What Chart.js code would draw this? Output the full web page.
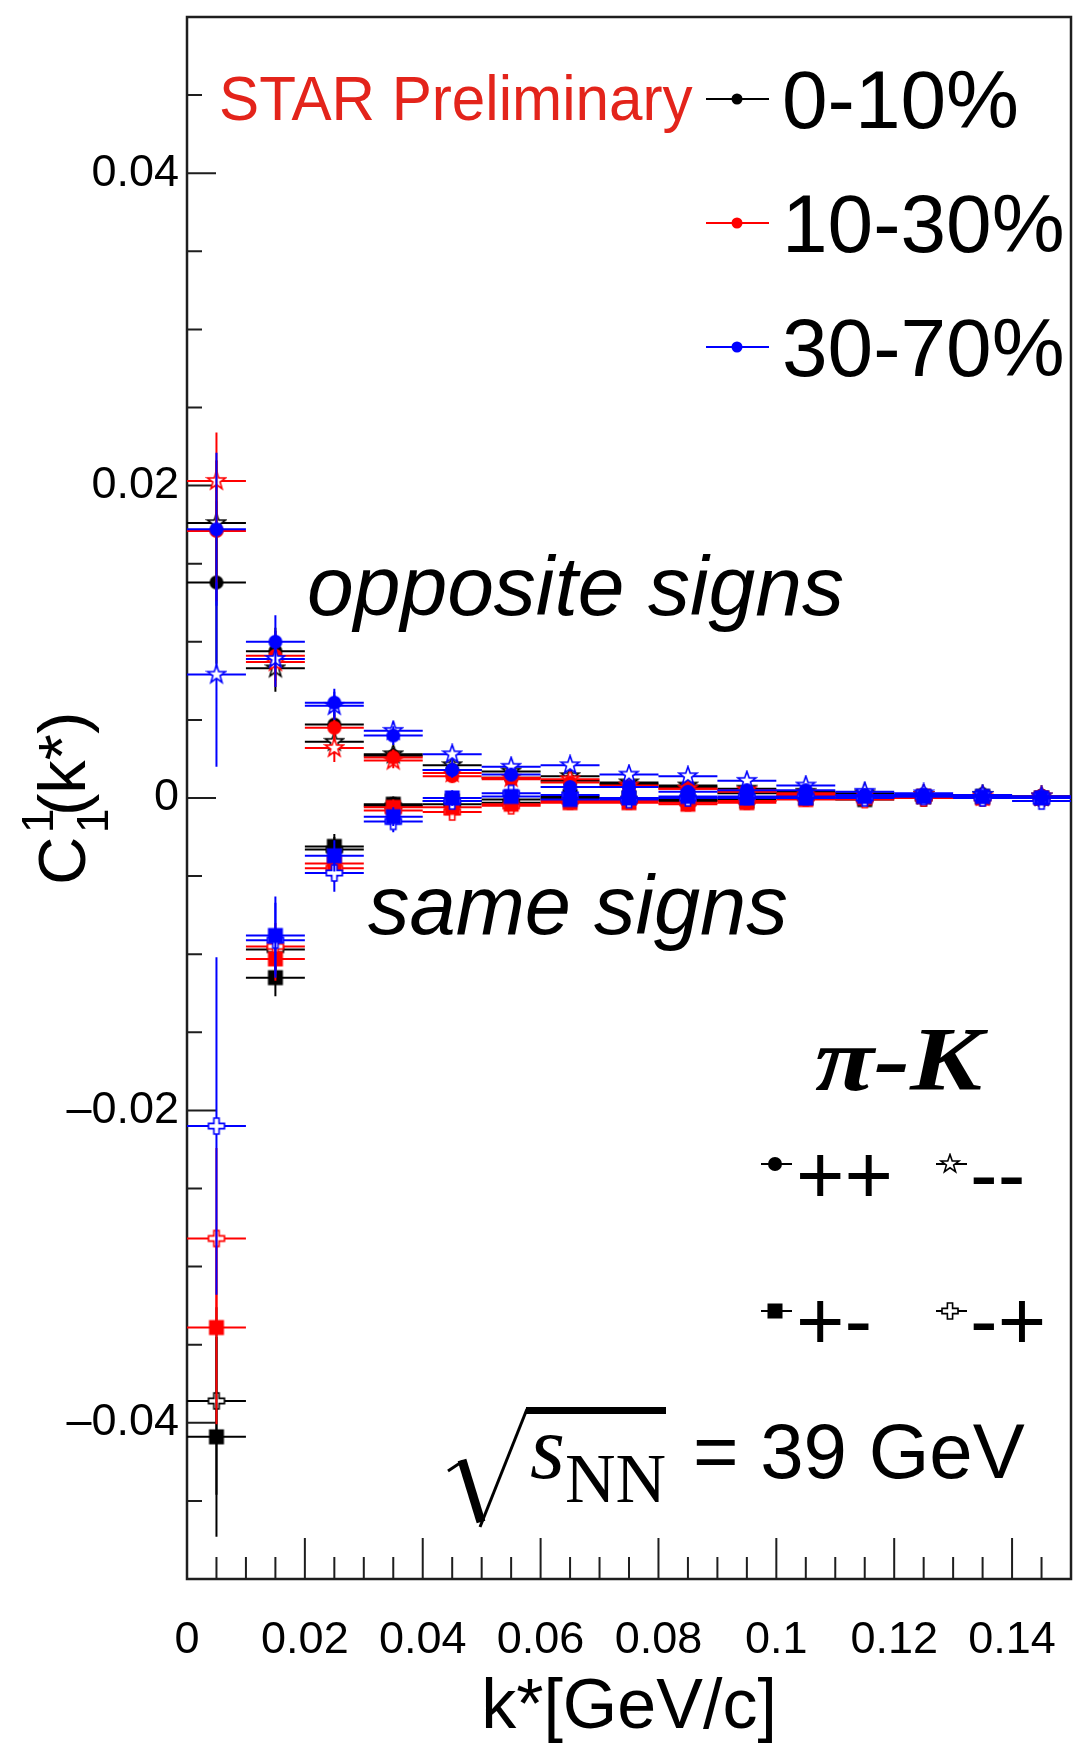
<!DOCTYPE html>
<html>
<head>
<meta charset="utf-8">
<title>C1 pi-K vs k*</title>
<script src="https://cdn.jsdelivr.net/npm/chart.js"></script>
<style>
  html, body { margin: 0; padding: 0; background: #fff; }
  canvas { display: block; }
</style>
</head>
<body>
<canvas id="c1Chart" width="1075" height="1744"></canvas>
<script>
// k* bin centres (GeV/c), bins are 0.01 wide
const kStar = [0.005, 0.015, 0.025, 0.035, 0.045, 0.055, 0.065, 0.075, 0.085, 0.095, 0.105, 0.115, 0.125, 0.135, 0.145];
const kHalfBin = 0.005;

const xTicks = [0, 0.02, 0.04, 0.06, 0.08, 0.1, 0.12, 0.14];
const yTicks = [-0.04, -0.02, 0, 0.02, 0.04];

const centralities = ['0-10%', '10-30%', '30-70%'];
const centralityColors = ['#000000', '#ff0000', '#0000ff'];
const pairLabels = ['++', '--', '+-', '-+'];
const pairMarkers = ['circle', 'star', 'square', 'cross'];

// ++ pairs
const pp010  = [0.0138, 0.0094, 0.0047, 0.0027, 0.0018, 0.0013, 0.0011, 0.0009, 0.0007, 0.0003, 0.0003, 0.0002, 0.0002, 0.0001, 0.0001];
const pp1030 = [0.0171, 0.0091, 0.0045, 0.0026, 0.0014, 0.0012, 0.0010, 0.0007, 0.0006, 0.0004, 0.0002, 0.0001, 0.0002, 0.0001, 0.0000];
const pp3070 = [0.0172, 0.0100, 0.0061, 0.0040, 0.0018, 0.0015, 0.0007, 0.0007, 0.0004, 0.0005, 0.0005, 0.0002, 0.0002, 0.0001, 0.0001];
// -- pairs
const mm010  = [0.0176, 0.0083, 0.0036, 0.0028, 0.0021, 0.0017, 0.0014, 0.0010, 0.0008, 0.0006, 0.0004, 0.0003, 0.0002, 0.0002, 0.0001];
const mm1030 = [0.0203, 0.0087, 0.0032, 0.0024, 0.0016, 0.0013, 0.0012, 0.0008, 0.0006, 0.0005, 0.0003, 0.0002, 0.0002, 0.0001, 0.0001];
const mm3070 = [0.0079, 0.0089, 0.0059, 0.0043, 0.0028, 0.0020, 0.0021, 0.0015, 0.0014, 0.0011, 0.0008, 0.0004, 0.0003, 0.0002, 0.0001];
// +- pairs
const pm010  = [-0.0409, -0.0115, -0.0031, -0.0004, -0.0002, -0.0001, 0.0001, 0.0000, -0.0001, -0.0002, 0.0000, -0.0001, 0.0001, 0.0001, 0.0000];
const pm1030 = [-0.0339, -0.0103, -0.0042, -0.0006, -0.0006, -0.0004, -0.0003, -0.0003, -0.0004, -0.0003, -0.0001, 0.0000, 0.0001, 0.0000, 0.0000];
const pm3070 = [null, -0.0088, -0.0037, -0.0012, 0.0000, 0.0001, -0.0001, 0.0000, 0.0001, 0.0000, 0.0000, 0.0001, 0.0001, 0.0001, 0.0000];
// -+ pairs
const mp010  = [-0.0386, -0.0097, -0.0033, -0.0005, -0.0004, -0.0003, 0.0000, -0.0001, -0.0002, -0.0001, 0.0001, 0.0000, 0.0000, 0.0001, 0.0000];
const mp1030 = [-0.0282, -0.0095, -0.0045, -0.0008, -0.0009, -0.0005, -0.0002, -0.0002, -0.0003, -0.0002, 0.0000, -0.0001, 0.0000, 0.0000, 0.0000];
const mp3070 = [-0.0210, -0.0091, -0.0048, -0.0015, -0.0002, 0.0003, 0.0002, -0.0001, 0.0000, 0.0001, 0.0001, 0.0000, 0.0001, 0.0000, -0.0002];

// statistical errors on C1
const ppErr010  = [0.0052, 0.0015, 0.0008, 0.0005, 0.0004, 0.0003, 0.0003, 0.0003, 0.0002, 0.0002, 0.0002, 0.0002, 0.0002, 0.0002, 0.0002];
const ppErr1030 = [0.0045, 0.0016, 0.0008, 0.0005, 0.0004, 0.0003, 0.0003, 0.0003, 0.0002, 0.0002, 0.0002, 0.0002, 0.0002, 0.0002, 0.0002];
const ppErr3070 = [0.0049, 0.0017, 0.0009, 0.0006, 0.0005, 0.0004, 0.0004, 0.0003, 0.0003, 0.0003, 0.0002, 0.0002, 0.0002, 0.0002, 0.0002];
const mmErr010  = [0.0040, 0.0015, 0.0008, 0.0005, 0.0004, 0.0003, 0.0003, 0.0003, 0.0002, 0.0002, 0.0002, 0.0002, 0.0002, 0.0002, 0.0002];
const mmErr1030 = [0.0031, 0.0016, 0.0009, 0.0005, 0.0004, 0.0003, 0.0003, 0.0003, 0.0002, 0.0002, 0.0002, 0.0002, 0.0002, 0.0002, 0.0002];
const mmErr3070 = [0.0059, 0.0018, 0.0009, 0.0006, 0.0005, 0.0004, 0.0004, 0.0003, 0.0003, 0.0003, 0.0002, 0.0002, 0.0002, 0.0002, 0.0002];
const pmErr010  = [0.0064, 0.0012, 0.0008, 0.0005, 0.0004, 0.0003, 0.0003, 0.0003, 0.0002, 0.0002, 0.0002, 0.0002, 0.0002, 0.0002, 0.0002];
const pmErr1030 = [0.0062, 0.0014, 0.0008, 0.0005, 0.0004, 0.0003, 0.0003, 0.0003, 0.0002, 0.0002, 0.0002, 0.0002, 0.0002, 0.0002, 0.0002];
const pmErr3070 = [0.0080, 0.0025, 0.0010, 0.0006, 0.0005, 0.0004, 0.0004, 0.0003, 0.0003, 0.0003, 0.0002, 0.0002, 0.0002, 0.0002, 0.0002];
const mpErr010  = [0.0060, 0.0013, 0.0008, 0.0005, 0.0004, 0.0003, 0.0003, 0.0003, 0.0002, 0.0002, 0.0002, 0.0002, 0.0002, 0.0002, 0.0002];
const mpErr1030 = [0.0058, 0.0015, 0.0009, 0.0005, 0.0004, 0.0003, 0.0003, 0.0003, 0.0002, 0.0002, 0.0002, 0.0002, 0.0002, 0.0002, 0.0002];
const mpErr3070 = [0.0108, 0.0024, 0.0012, 0.0007, 0.0005, 0.0004, 0.0004, 0.0003, 0.0003, 0.0003, 0.0002, 0.0002, 0.0002, 0.0002, 0.0002];

// [pair index, centrality index, values, errors]
const seriesTable = [
  [0, 0, pp010, ppErr010], [1, 0, mm010, mmErr010], [2, 0, pm010, pmErr010], [3, 0, mp010, mpErr010],
  [0, 1, pp1030, ppErr1030], [1, 1, mm1030, mmErr1030], [2, 1, pm1030, pmErr1030], [3, 1, mp1030, mpErr1030],
  [0, 2, pp3070, ppErr3070], [1, 2, mm3070, mmErr3070], [2, 2, pm3070, pmErr3070], [3, 2, mp3070, mpErr3070]
];

const SANS = '"Liberation Sans", Arimo, Helvetica, Arial, sans-serif';
const SERIF = '"Liberation Serif", Tinos, "Times New Roman", serif';

// ROOT-like marker sprites
function markerImage(shape, color) {
  const c = document.createElement('canvas');
  c.width = 22; c.height = 22;
  const g = c.getContext('2d');
  const m = 11;
  g.fillStyle = color;
  g.strokeStyle = color;
  g.lineWidth = 1.6;
  if (shape === 'circle') {
    g.beginPath(); g.arc(m, m, 7, 0, Math.PI * 2); g.fill();
  } else if (shape === 'square') {
    g.fillRect(m - 7.5, m - 7.5, 15, 15);
  } else if (shape === 'star') {
    g.beginPath();
    for (let i = 0; i < 10; i++) {
      const r = i % 2 ? 3.8 : 9.5;
      const a = -Math.PI / 2 + i * Math.PI / 5;
      g.lineTo(m + r * Math.cos(a), m + r * Math.sin(a));
    }
    g.closePath();
    g.fillStyle = '#fff'; g.fill(); g.stroke();
  } else {
    const a = 8, b = 2.6;
    g.beginPath();
    g.moveTo(m - b, m - a); g.lineTo(m + b, m - a); g.lineTo(m + b, m - b); g.lineTo(m + a, m - b);
    g.lineTo(m + a, m + b); g.lineTo(m + b, m + b); g.lineTo(m + b, m + a); g.lineTo(m - b, m + a);
    g.lineTo(m - b, m + b); g.lineTo(m - a, m + b); g.lineTo(m - a, m - b); g.lineTo(m - b, m - b);
    g.closePath();
    g.fillStyle = '#fff'; g.fill(); g.stroke();
  }
  return c;
}

const datasets = seriesTable.map(([pair, cent, values, errors]) => ({
  label: pairLabels[pair] + ' ' + centralities[cent],
  data: kStar.map((k, i) => ({ x: k, y: values[i], e: errors[i] })).filter(p => p.y !== null),
  borderColor: centralityColors[cent],
  backgroundColor: centralityColors[cent],
  pointStyle: markerImage(pairMarkers[pair], centralityColors[cent]),
  pointRadius: 8,
  showLine: false,
  order: 3 - cent
}));

// bin-width horizontal bars and vertical error bars, drawn just under each graph's markers
const errorBars = {
  id: 'errorBars',
  beforeDatasetDraw(chart, args) {
    const ds = chart.data.datasets[args.index];
    const { x: xs, y: ys } = chart.scales;
    const ctx = chart.ctx;
    ctx.save();
    ctx.strokeStyle = ds.borderColor;
    ctx.lineWidth = 2;
    ctx.beginPath();
    ds.data.forEach(p => {
      const px = xs.getPixelForValue(p.x);
      const py = ys.getPixelForValue(p.y);
      ctx.moveTo(xs.getPixelForValue(p.x - kHalfBin), py);
      ctx.lineTo(xs.getPixelForValue(p.x + kHalfBin), py);
      ctx.moveTo(px, ys.getPixelForValue(p.y + p.e));
      ctx.lineTo(px, ys.getPixelForValue(p.y - p.e));
    });
    ctx.stroke();
    ctx.restore();
  }
};

// frame box and inward ticks
const frameAxes = {
  id: 'frameAxes',
  beforeDatasetsDraw(chart) {
    const { ctx, chartArea: a, scales: { x, y } } = chart;
    ctx.save();
    ctx.strokeStyle = '#1e1e1e';
    ctx.lineWidth = 2.5;
    ctx.strokeRect(a.left, a.top, a.right - a.left, a.bottom - a.top);
    ctx.lineWidth = 2;
    ctx.beginPath();
    for (let i = 1; i < 30; i++) {
      const px = x.getPixelForValue(i * 0.005);
      ctx.moveTo(px, a.bottom);
      ctx.lineTo(px, a.bottom - (i % 4 === 0 ? 41 : 22));
    }
    for (let i = -9; i <= 9; i++) {
      const py = y.getPixelForValue(i * 0.005);
      ctx.moveTo(a.left, py);
      ctx.lineTo(a.left + (i % 4 === 0 ? 29 : 15), py);
    }
    ctx.stroke();
    ctx.restore();
  }
};

function drawText(ctx, str, x, y, font, color, sx) {
  ctx.save();
  ctx.font = font;
  ctx.fillStyle = color || '#000';
  ctx.textAlign = 'left';
  ctx.textBaseline = 'alphabetic';
  ctx.translate(x, y);
  if (sx) ctx.scale(sx, 1);
  ctx.fillText(str, 0, 0);
  ctx.restore();
}

const annotations = {
  id: 'annotations',
  afterDraw(chart) {
    const ctx = chart.ctx;

    // y-axis title C_1^1(k*)
    ctx.save();
    ctx.translate(85, 882);
    ctx.rotate(-Math.PI / 2);
    ctx.fillStyle = '#000';
    ctx.font = '67px ' + SANS;
    ctx.fillText('C', -3, 0);
    ctx.font = '44px ' + SANS;
    ctx.fillText('1', 49, -32);
    ctx.fillText('1', 49, 23);
    ctx.font = '67px ' + SANS;
    ctx.fillText('(k*)', 66, 0);
    ctx.restore();

    drawText(ctx, 'STAR Preliminary', 219, 120, '63px ' + SANS, '#e3241b', 0.955);

    // centrality legend
    const legendLineY = [99, 223, 347];
    const legendTextY = [128, 252, 376];
    centralities.forEach((label, i) => {
      ctx.save();
      ctx.strokeStyle = centralityColors[i];
      ctx.fillStyle = centralityColors[i];
      ctx.lineWidth = 2;
      ctx.beginPath();
      ctx.moveTo(706, legendLineY[i]); ctx.lineTo(769, legendLineY[i]);
      ctx.stroke();
      ctx.beginPath();
      ctx.arc(737, legendLineY[i], 5.5, 0, Math.PI * 2);
      ctx.fill();
      ctx.restore();
      drawText(ctx, label, 782, legendTextY[i], '82px ' + SANS);
    });

    drawText(ctx, 'opposite signs', 307, 615, 'italic 84px ' + SANS);
    drawText(ctx, 'same signs', 368, 934, 'italic 83px ' + SANS);
    drawText(ctx, '\u03c0-K', 815, 1090, 'italic bold 90px ' + SERIF, '#000', 1.2);

    // charge combination legend
    const pairPos = [[775, 1164, 796, 1203], [950, 1164, 970, 1203], [775, 1311, 796, 1349], [950, 1311, 970, 1349]];
    pairLabels.forEach((label, i) => {
      const [mx, my, tx, ty] = pairPos[i];
      ctx.save();
      ctx.strokeStyle = '#000';
      ctx.lineWidth = 2;
      ctx.beginPath();
      ctx.moveTo(mx - 14, my); ctx.lineTo(mx + 17, my);
      ctx.stroke();
      ctx.drawImage(markerImage(pairMarkers[i], '#000'), mx - 11, my - 11);
      ctx.restore();
      drawText(ctx, label, tx, ty, '83px ' + SANS);
    });

    // sqrt(s_NN) = 39 GeV
    ctx.save();
    ctx.strokeStyle = '#000';
    ctx.fillStyle = '#000';
    ctx.lineCap = 'butt';
    ctx.lineWidth = 3;
    ctx.beginPath(); ctx.moveTo(448, 1471); ctx.lineTo(463, 1461); ctx.stroke();
    ctx.lineWidth = 9;
    ctx.beginPath(); ctx.moveTo(462, 1460); ctx.lineTo(481, 1522); ctx.stroke();
    ctx.lineWidth = 3;
    ctx.beginPath(); ctx.moveTo(480, 1527); ctx.lineTo(527, 1409); ctx.stroke();
    ctx.fillRect(526, 1407, 140, 7);
    ctx.restore();
    drawText(ctx, 's', 530, 1478, 'italic 90px ' + SERIF);
    drawText(ctx, 'NN', 565, 1502, '70px ' + SERIF);
    drawText(ctx, '= 39 GeV', 693, 1478, '78px ' + SANS);
  }
};

Chart.defaults.font.family = SANS;
Chart.defaults.color = '#000';

new Chart(document.getElementById('c1Chart'), {
  type: 'scatter',
  data: { datasets },
  options: {
    responsive: false,
    animation: false,
    events: [],
    layout: { autoPadding: false, padding: { top: 17, right: 4, left: 0, bottom: 0 } },
    plugins: { legend: { display: false }, tooltip: { enabled: false } },
    scales: {
      x: {
        type: 'linear',
        min: 0,
        max: 0.15,
        grid: { display: false, drawTicks: false },
        border: { display: false },
        afterBuildTicks: s => { s.ticks = xTicks.map(v => ({ value: v })); },
        afterFit: s => { s.height = 165; s.paddingLeft = 0; s.paddingRight = 0; },
        ticks: {
          autoSkip: false, maxRotation: 0, minRotation: 0,
          padding: 35,
          font: { size: 45 },
          color: '#000',
          callback: v => String(v)
        },
        title: {
          display: true,
          text: 'k*[GeV/c]',
          font: { size: 70, lineHeight: 1 },
          color: '#000',
          padding: { top: 0, bottom: 0 }
        }
      },
      y: {
        type: 'linear',
        min: -0.05,
        max: 0.05,
        grid: { display: false, drawTicks: false },
        border: { display: false },
        afterBuildTicks: s => { s.ticks = yTicks.map(v => ({ value: v })); },
        afterFit: s => { s.width = 187; s.paddingTop = 0; s.paddingBottom = 0; },
        ticks: {
          padding: 8,
          font: { size: 45 },
          color: '#000',
          callback: v => (v < 0 ? '\u2013' + String(Math.abs(v)) : String(v))
        }
      }
    }
  },
  plugins: [frameAxes, errorBars, annotations]
});
</script>
</body>
</html>
